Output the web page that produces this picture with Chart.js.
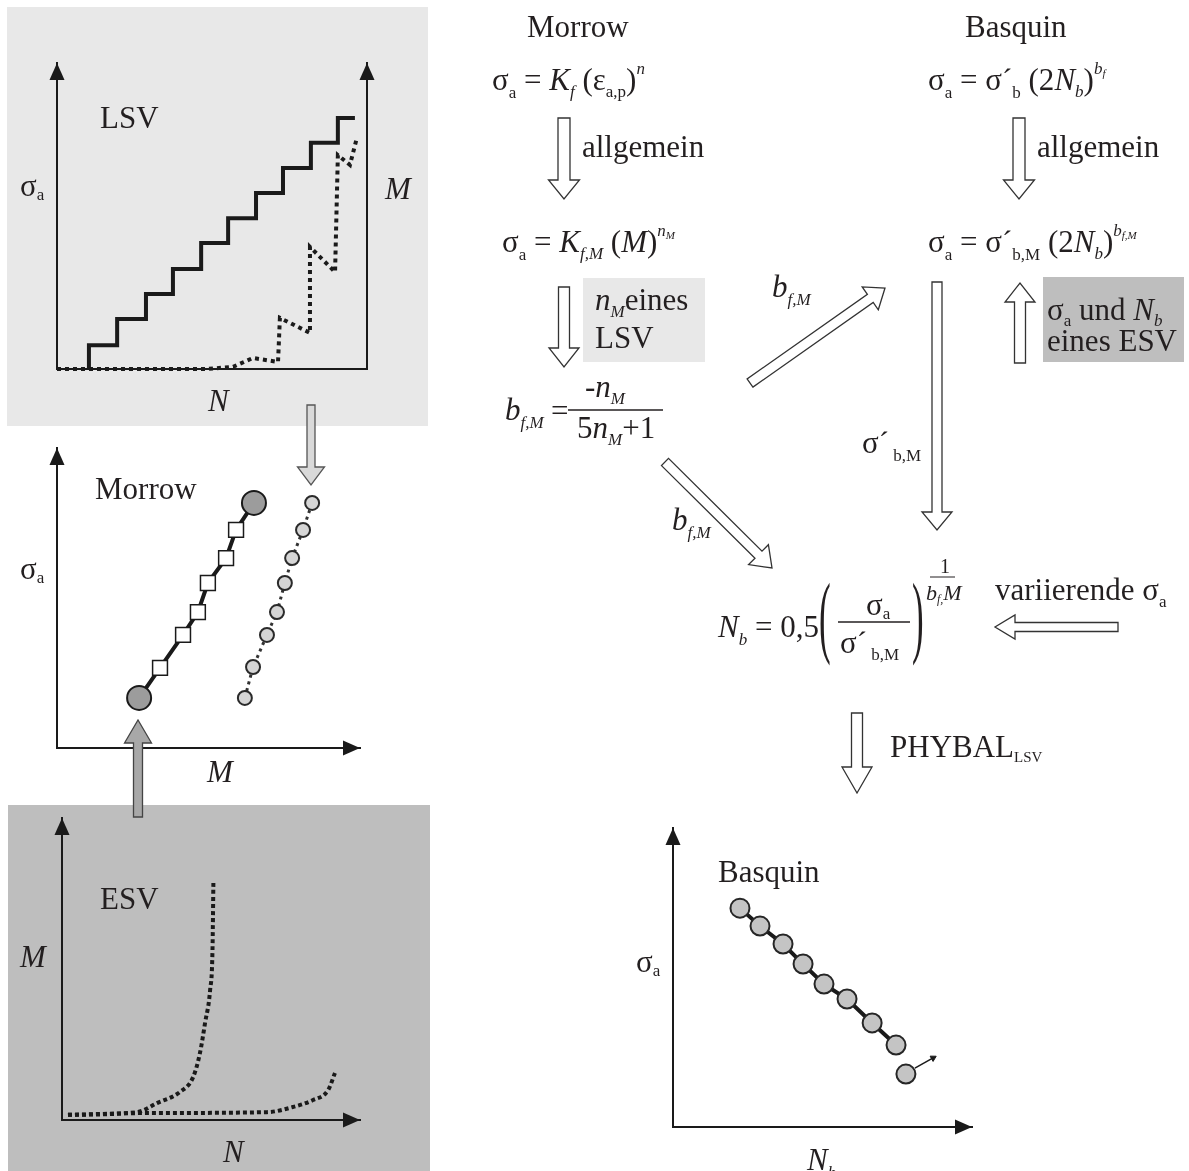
<!DOCTYPE html>
<html lang="de">
<head>
<meta charset="utf-8">
<title>LSV / ESV – Morrow und Basquin</title>
<script src="https://cdn.jsdelivr.net/npm/chart.js@4.4.1/dist/chart.umd.min.js"></script>
<style>
  html, body { margin: 0; padding: 0; background: #fff; }
  #page { position: relative; width: 1189px; height: 1171px; overflow: hidden; }
  .panel { position: absolute; }
  canvas { position: absolute; }
  #overlay { position: absolute; left: 0; top: 0; pointer-events: none; }
  #overlay text { font-family: "Liberation Serif", "Times New Roman", serif; font-size: 31px; fill: #231f20; white-space: pre; }
  #overlay .i { font-style: italic; }
  #overlay .s { font-size: 17px; }
  #overlay .xs { font-size: 11px; }
</style>
</head>
<body>
<div id="page">
  <div class="panel" style="left:7px;top:7px;width:421px;height:419px;background:#e8e8e8"></div>
  <div class="panel" style="left:8px;top:805px;width:422px;height:366px;background:#bebebe"></div>
  <div class="panel" style="left:583px;top:278px;width:122px;height:84px;background:#e8e8e8"></div>
  <div class="panel" style="left:1043px;top:277px;width:141px;height:85px;background:#bebebe"></div>

  <canvas id="lsvChart"></canvas>
  <canvas id="morrowChart"></canvas>
  <canvas id="esvChart"></canvas>
  <canvas id="basquinChart"></canvas>

  <svg id="overlay" width="1189" height="1171">
    <g id="arrows"></g>

    <!-- labels of the small charts -->
    <text x="100" y="128">LSV</text>
    <text x="20" y="196">σ<tspan class="s" y="200">a</tspan></text>
    <text x="385" y="199" class="i">M</text>
    <text x="208" y="411" class="i">N</text>

    <text x="95" y="499">Morrow</text>
    <text x="20" y="579">σ<tspan class="s" y="583">a</tspan></text>
    <text x="207" y="782" class="i">M</text>

    <text x="100" y="909">ESV</text>
    <text x="20" y="967" class="i">M</text>
    <text x="223" y="1162" class="i">N</text>

    <text x="718" y="882">Basquin</text>
    <text x="636" y="972">σ<tspan class="s" y="976">a</tspan></text>
    <text x="807" y="1170" class="i">N<tspan class="s" y="1178">b</tspan></text>

    <!-- Morrow column -->
    <text x="527" y="37">Morrow</text>
    <text x="492" y="90">σ<tspan class="s" y="98">a</tspan><tspan y="90"> = </tspan><tspan class="i">K</tspan><tspan class="s i" y="97">f</tspan><tspan y="90"> (ε</tspan><tspan class="s" y="97">a,p</tspan><tspan y="90">)</tspan><tspan class="s i" y="74">n</tspan></text>
    <text x="582" y="157">allgemein</text>
    <text x="502" y="252">σ<tspan class="s" y="260">a</tspan><tspan y="252"> = </tspan><tspan class="i">K</tspan><tspan class="s i" y="259">f,M</tspan><tspan y="252"> (</tspan><tspan class="i">M</tspan><tspan>)</tspan><tspan class="s i" y="236">n</tspan><tspan class="xs i" y="239">M</tspan></text>

    <!-- Basquin column -->
    <text x="965" y="37">Basquin</text>
    <text x="928" y="90">σ<tspan class="s" y="98">a</tspan><tspan y="90"> = σ´</tspan><tspan class="s" y="98">b</tspan><tspan y="90"> (2</tspan><tspan class="i">N</tspan><tspan class="s i" y="97">b</tspan><tspan y="90">)</tspan><tspan class="s i" y="74">b</tspan><tspan class="xs i" y="77">f</tspan></text>
    <text x="1037" y="157">allgemein</text>
    <text x="928" y="252">σ<tspan class="s" y="260">a</tspan><tspan y="252"> = σ´</tspan><tspan class="s" y="260">b,M</tspan><tspan y="252"> (2</tspan><tspan class="i">N</tspan><tspan class="s i" y="259">b</tspan><tspan y="252">)</tspan><tspan class="s i" y="236">b</tspan><tspan class="xs i" y="239">f,M</tspan></text>

    <!-- middle -->
    <text x="595" y="310"><tspan class="i">n</tspan><tspan class="s i" y="317">M</tspan><tspan y="310">eines</tspan></text>
    <text x="595" y="348">LSV</text>
    <text x="505" y="420" class="i">b<tspan class="s" y="428">f,M</tspan></text>
    <text x="551" y="421">=</text>
    <line x1="568" y1="410" x2="663" y2="410" stroke="#231f20" stroke-width="1.5"/>
    <text x="585" y="397">-<tspan class="i">n</tspan><tspan class="s i" y="404">M</tspan></text>
    <text x="577" y="438">5<tspan class="i">n</tspan><tspan class="s i" y="445">M</tspan><tspan y="438">+1</tspan></text>
    <text x="772" y="297" class="i">b<tspan class="s" y="305">f,M</tspan></text>
    <text x="672" y="530" class="i">b<tspan class="s" y="538">f,M</tspan></text>
    <text x="862" y="453">σ´<tspan class="s" y="461"> b,M</tspan></text>
    <text x="1047" y="320">σ<tspan class="s" y="326">a</tspan><tspan y="320"> und </tspan><tspan class="i">N</tspan><tspan class="s i" y="326">b</tspan></text>
    <text x="1047" y="351">eines ESV</text>

    <!-- N_b formula -->
    <text x="718" y="637"><tspan class="i">N</tspan><tspan class="s i" y="645">b</tspan><tspan y="637"> = 0,5</tspan></text>
    <text transform="translate(819 646) scale(0.5 1.3)" style="font-size:70px">(</text>
    <text x="866" y="615">σ<tspan class="s" y="619">a</tspan></text>
    <line x1="838" y1="622" x2="910" y2="622" stroke="#231f20" stroke-width="1.5"/>
    <text x="840" y="653">σ´<tspan class="s" y="660"> b,M</tspan></text>
    <text transform="translate(912 646) scale(0.5 1.3)" style="font-size:70px">)</text>
    <text x="940" y="573" style="font-size:20px">1</text>
    <line x1="930" y1="577" x2="955" y2="577" stroke="#231f20" stroke-width="1"/>
    <text x="926" y="600" class="i" style="font-size:22px">b<tspan style="font-size:12px" y="603">f,</tspan><tspan y="600">M</tspan></text>
    <text x="995" y="600">variierende σ<tspan class="s" y="607">a</tspan></text>
    <text x="890" y="757">PHYBAL<tspan style="font-size:15px" y="762">LSV</tspan></text>
  </svg>
</div>

<script>
// LSV: load steps (sigma_a) and the response M over N, axis units 0..100
const lsvStepN = [10.3, 19.4, 28.7, 37.4, 46.5, 55.2, 64.2, 72.9, 81.9, 90.6, 96.1];
const lsvStepSigma = [0, 7.8, 16.3, 24.5, 32.7, 41.2, 49.3, 57.5, 65.7, 73.9, 82.0];
const lsvCurveN = [0, 48.4, 56.8, 63.2, 71.3, 71.9, 81.6, 81.6, 89.7, 90.6, 94.5, 96.8];
const lsvCurveM = [0, 0, 0.7, 3.6, 2.3, 16.7, 11.8, 39.9, 31.7, 69.9, 66.7, 75.8];

// Morrow: sigma_a over M
const morrowM = [27.1, 34.0, 41.6, 46.5, 49.8, 55.8, 59.1, 65.0];
const morrowSigma = [16.7, 26.7, 37.7, 45.3, 55.0, 63.3, 72.7, 81.7];
const morrowSource = ['ESV', 'LSV', 'LSV', 'LSV', 'LSV', 'LSV', 'LSV', 'ESV'];
const lsvPointM = [62.0, 64.7, 69.3, 72.6, 75.2, 77.6, 81.2, 84.2];
const lsvPointSigma = [16.7, 27.0, 37.7, 45.3, 55.0, 63.3, 72.7, 81.7];

// ESV: M over N for two tests
const esvN1 = [2, 25.2, 31.9, 39.6, 44.0, 46.3, 48.0, 49.7, 50.5, 50.8];
const esvM1 = [1.7, 2.6, 5.6, 9.3, 14.2, 22.2, 32.1, 43.0, 56.3, 78.5];
const esvN2 = [2, 28.5, 68.8, 77.5, 84.2, 89.3, 91.6];
const esvM2 = [1.7, 2.3, 2.6, 4.3, 6.6, 9.9, 15.6];

// Basquin: sigma_a over N_b
const basquinN = [22.4, 29.1, 36.8, 43.5, 50.5, 58.2, 66.6, 74.6];
const basquinSigma = [73.2, 67.2, 61.2, 54.5, 47.8, 42.8, 34.8, 27.4];
const runoutN = [77.9];
const runoutSigma = [17.7];
const runoutArrowN = [80.9, 87.0];
const runoutArrowSigma = [19.7, 23.1];

const INK = '#1a1a1a';
const PAD = 24;

// chart areas on the page: left, top, right, bottom
const lsvArea = [57, 63, 367, 369];
const morrowArea = [57, 448, 360, 748];
const esvArea = [62, 818, 360, 1120];
const basquinArea = [673, 828, 972, 1127];

const xy = (xs, ys) => xs.map((x, i) => ({ x, y: ys[i] }));

function placeCanvas(id, area) {
  const c = document.getElementById(id);
  c.width = area[2] - area[0] + 2 * PAD;
  c.height = area[3] - area[1] + 2 * PAD;
  c.style.left = (area[0] - PAD) + 'px';
  c.style.top = (area[1] - PAD) + 'px';
  return c;
}

function axis(position) {
  return {
    type: 'linear',
    position,
    min: 0,
    max: 100,
    ticks: { display: false },
    grid: { display: false, drawTicks: false },
    border: { display: true, color: INK, width: 2 }
  };
}

const axisArrows = {
  id: 'axisArrows',
  afterDatasetsDraw(chart, args, opts) {
    const { ctx, chartArea: a } = chart;
    ctx.save();
    ctx.fillStyle = INK;
    (opts.ends || []).forEach((end) => {
      ctx.beginPath();
      if (end === 'right') {
        ctx.moveTo(a.right, a.bottom);
        ctx.lineTo(a.right - 17, a.bottom - 7.5);
        ctx.lineTo(a.right - 17, a.bottom + 7.5);
      } else {
        const x = end === 'top-left' ? a.left : a.right;
        ctx.moveTo(x, a.top);
        ctx.lineTo(x - 7.5, a.top + 17);
        ctx.lineTo(x + 7.5, a.top + 17);
      }
      ctx.closePath();
      ctx.fill();
    });
    ctx.restore();
  }
};

function options(scales, ends) {
  return {
    responsive: false,
    animation: false,
    events: [],
    layout: { padding: PAD },
    plugins: {
      legend: { display: false },
      tooltip: { enabled: false },
      axisArrows: { ends }
    },
    scales
  };
}

new Chart(placeCanvas('lsvChart', lsvArea), {
  type: 'line',
  data: {
    datasets: [
      {
        data: xy(lsvStepN, lsvStepSigma),
        yAxisID: 'y',
        stepped: 'after',
        borderColor: INK,
        borderWidth: 4,
        borderJoinStyle: 'miter',
        pointRadius: 0,
        clip: false
      },
      {
        data: xy(lsvCurveN, lsvCurveM),
        yAxisID: 'y1',
        borderColor: INK,
        borderWidth: 4,
        borderDash: [4, 4],
        pointRadius: 0,
        clip: false
      }
    ]
  },
  options: options({ x: axis('bottom'), y: axis('left'), y1: axis('right') }, ['top-left', 'top-right']),
  plugins: [axisArrows]
});

new Chart(placeCanvas('morrowChart', morrowArea), {
  type: 'line',
  data: {
    datasets: [
      {
        data: xy(morrowM, morrowSigma),
        borderColor: INK,
        borderWidth: 4,
        pointStyle: (c) => (morrowSource[c.dataIndex] === 'ESV' ? 'circle' : 'rect'),
        pointRadius: (c) => (morrowSource[c.dataIndex] === 'ESV' ? 12 : 10.5),
        pointBackgroundColor: (c) => (morrowSource[c.dataIndex] === 'ESV' ? '#9c9c9c' : '#fff'),
        pointBorderColor: INK,
        pointBorderWidth: (c) => (morrowSource[c.dataIndex] === 'ESV' ? 2 : 1.5),
        clip: false
      },
      {
        data: xy(lsvPointM, lsvPointSigma),
        borderColor: '#333',
        borderWidth: 3,
        borderDash: [3, 4],
        pointRadius: 7,
        pointBackgroundColor: '#d6d6d6',
        pointBorderColor: '#2a2a2a',
        pointBorderWidth: 2,
        clip: false
      }
    ]
  },
  options: options({ x: axis('bottom'), y: axis('left') }, ['top-left', 'right']),
  plugins: [axisArrows]
});

new Chart(placeCanvas('esvChart', esvArea), {
  type: 'line',
  data: {
    datasets: [
      {
        data: xy(esvN1, esvM1),
        borderColor: INK,
        borderWidth: 4,
        borderDash: [4, 3],
        cubicInterpolationMode: 'monotone',
        pointRadius: 0,
        clip: false
      },
      {
        data: xy(esvN2, esvM2),
        borderColor: INK,
        borderWidth: 4,
        borderDash: [4, 3],
        cubicInterpolationMode: 'monotone',
        pointRadius: 0,
        clip: false
      }
    ]
  },
  options: options({ x: axis('bottom'), y: axis('left') }, ['top-left', 'right']),
  plugins: [axisArrows]
});

new Chart(placeCanvas('basquinChart', basquinArea), {
  type: 'line',
  data: {
    datasets: [
      {
        data: xy(basquinN, basquinSigma),
        borderColor: INK,
        borderWidth: 4,
        pointRadius: 9.5,
        pointBackgroundColor: '#c4c4c4',
        pointBorderColor: '#262626',
        pointBorderWidth: 2,
        clip: false
      },
      {
        data: xy(runoutN, runoutSigma),
        showLine: false,
        pointRadius: 9.5,
        pointBackgroundColor: '#c4c4c4',
        pointBorderColor: '#262626',
        pointBorderWidth: 2,
        clip: false
      },
      {
        data: xy(runoutArrowN, runoutArrowSigma),
        borderColor: INK,
        borderWidth: 1.5,
        pointStyle: 'triangle',
        pointRotation: 61,
        pointRadius: [0, 3.5],
        pointBackgroundColor: INK,
        pointBorderColor: INK,
        pointBorderWidth: 1,
        clip: false
      }
    ]
  },
  options: options({ x: axis('bottom'), y: axis('left') }, ['top-left', 'right']),
  plugins: [axisArrows]
});

// hollow flow arrows of the scheme: x1, y1, x2 (tip), y2, shaft, head, head length, fill, stroke
const flowArrows = [
  [564, 118, 564, 199, 12, 31, 19, '#fff', '#333'],
  [1019, 118, 1019, 199, 12, 31, 19, '#fff', '#333'],
  [564, 287, 564, 367, 11, 30, 19, '#fff', '#333'],
  [750, 383, 885, 288, 10, 28, 18, '#fff', '#333'],
  [665, 462, 772, 568, 10, 28, 19, '#fff', '#333'],
  [937, 282, 937, 530, 10, 30, 18, '#fff', '#333'],
  [1020, 363, 1020, 283, 11, 30, 19, '#fff', '#333'],
  [1118, 627, 995, 627, 9, 24, 20, '#fff', '#333'],
  [857, 713, 857, 793, 11, 30, 26, '#fff', '#333'],
  [311, 405, 311, 485, 8, 27, 18, '#d9d9d9', '#555'],
  [138, 817, 138, 720, 9, 27, 23, '#a8a8a8', '#444']
];

const arrowGroup = document.getElementById('arrows');
flowArrows.forEach(([x1, y1, x2, y2, shaft, head, headLen, fill, stroke]) => {
  const len = Math.hypot(x2 - x1, y2 - y1);
  const ux = (x2 - x1) / len, uy = (y2 - y1) / len;
  const nx = -uy, ny = ux;
  const bx = x2 - ux * headLen, by = y2 - uy * headLen;
  const pts = [
    [x1 + nx * shaft / 2, y1 + ny * shaft / 2],
    [bx + nx * shaft / 2, by + ny * shaft / 2],
    [bx + nx * head / 2, by + ny * head / 2],
    [x2, y2],
    [bx - nx * head / 2, by - ny * head / 2],
    [bx - nx * shaft / 2, by - ny * shaft / 2],
    [x1 - nx * shaft / 2, y1 - ny * shaft / 2]
  ];
  const poly = document.createElementNS('http://www.w3.org/2000/svg', 'polygon');
  poly.setAttribute('points', pts.map((p) => p[0].toFixed(1) + ',' + p[1].toFixed(1)).join(' '));
  poly.setAttribute('fill', fill);
  poly.setAttribute('stroke', stroke);
  poly.setAttribute('stroke-width', '1.3');
  arrowGroup.appendChild(poly);
});
</script>
</body>
</html>
